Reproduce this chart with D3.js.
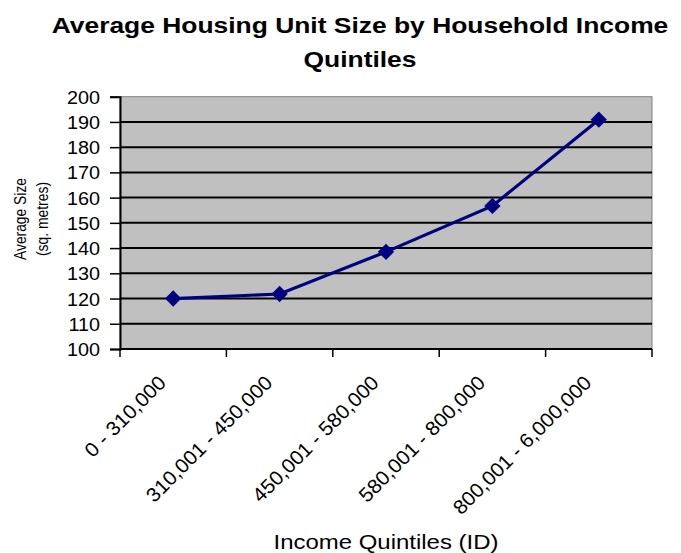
<!DOCTYPE html>
<html>
<head>
<meta charset="utf-8">
<script src="https://cdn.jsdelivr.net/npm/d3@7"></script>
<style>
  body { margin: 0; background: #fff; }
  svg text { font-family: Arial, "Liberation Sans", Helvetica, sans-serif; }
</style>
</head>
<body>
<div id="chart"></div>
<script>
// data
var categories = ["0 - 310,000", "310,001 - 450,000", "450,001 - 580,000", "580,001 - 800,000", "800,001 - 6,000,000"];
var sizes = [120, 121.8, 138.5, 156.7, 190.9];
var yTicks = [100, 110, 120, 130, 140, 150, 160, 170, 180, 190, 200];
var titleLines = ["Average Housing Unit Size by Household Income", "Quintiles"];

var W = 681, H = 553;
var margin = {top: 96.7, right: 29, bottom: 204, left: 120};
var width = W - margin.left - margin.right,
    height = H - margin.top - margin.bottom;

// the source picture has wide-set text, stretch it a bit
function stretch(sel, k) {
  sel.each(function() {
    var len = this.getComputedTextLength();
    d3.select(this).attr("textLength", len * k).attr("lengthAdjust", "spacingAndGlyphs");
  });
}

var svg = d3.select("#chart").append("svg")
  .attr("width", W)
  .attr("height", H);

// title
var titles = svg.append("g").selectAll("text")
  .data(titleLines)
  .enter().append("text")
  .attr("x", 360)
  .attr("y", function(d, i) { return 33 + i * 34; })
  .attr("text-anchor", "middle")
  .style("font-size", "22px")
  .style("font-weight", "bold")
  .text(function(d) { return d; });
stretch(titles, 1.2);

var g = svg.append("g")
  .attr("transform", "translate(" + margin.left + "," + margin.top + ")");

var x = d3.scaleBand().domain(categories).range([0, width]);
var y = d3.scaleLinear().domain([100, 200]).range([height, 0]);

// plot area
g.append("rect")
  .attr("width", width)
  .attr("height", height)
  .style("fill", "#c0c0c0")
  .style("stroke", "#808080")
  .style("stroke-width", 1);

// gridlines
g.append("g").selectAll("line")
  .data(yTicks.filter(function(d) { return d > 100 && d < 200; }))
  .enter().append("line")
  .attr("x1", 0).attr("x2", width)
  .attr("y1", function(d) { return y(d); })
  .attr("y2", function(d) { return y(d); })
  .style("stroke", "#000")
  .style("stroke-width", 2);

// y axis
var yAxis = g.append("g")
  .call(d3.axisLeft(y).tickValues(yTicks).tickSize(10).tickPadding(10));
yAxis.attr("font-family", null);
yAxis.selectAll("text").style("font-size", "18px").style("fill", "#000").attr("dy", "0.36em");
stretch(yAxis.selectAll("text"), 1.1);
yAxis.select(".domain").style("stroke-width", 2);
yAxis.selectAll(".tick line").style("stroke-width", 1.5);

// x axis: ticks at band edges
var xEdges = categories.map(function(c) { return x(c); }).concat([width]);
var xAxis = g.append("g").attr("transform", "translate(0," + height + ")");
xAxis.append("line")
  .attr("x1", 0).attr("x2", width)
  .style("stroke", "#000").style("stroke-width", 2);
xAxis.selectAll(".tk")
  .data(xEdges)
  .enter().append("line")
  .attr("class", "tk")
  .attr("x1", function(d) { return d; })
  .attr("x2", function(d) { return d; })
  .attr("y1", 0).attr("y2", 8)
  .style("stroke", "#000").style("stroke-width", 1.5);
var xLabels = xAxis.selectAll(".lbl")
  .data(categories)
  .enter().append("text")
  .attr("class", "lbl")
  .attr("text-anchor", "end")
  .attr("transform", function(d) {
    return "translate(" + (x(d) + x.bandwidth() / 2 - 6) + ",35) rotate(-45)";
  })
  .style("font-size", "20px")
  .text(function(d) { return d; });
stretch(xLabels, 1.04);

// axis titles
var xTitle = svg.append("text")
  .attr("x", 386)
  .attr("y", 549)
  .attr("text-anchor", "middle")
  .style("font-size", "21px")
  .text("Income Quintiles (ID)");
xTitle.attr("textLength", 225).attr("lengthAdjust", "spacingAndGlyphs");

var yTitle = svg.append("text")
  .attr("transform", "translate(0,219) rotate(-90)")
  .attr("text-anchor", "middle")
  .style("font-size", "16px");
yTitle.append("tspan").attr("x", 0).attr("y", 26).attr("textLength", 82).attr("lengthAdjust", "spacingAndGlyphs").text("Average Size");
yTitle.append("tspan").attr("x", 0).attr("y", 48).attr("textLength", 74).attr("lengthAdjust", "spacingAndGlyphs").text("(sq. metres)");

// line + markers
var line = d3.line()
  .x(function(d, i) { return x(categories[i]) + x.bandwidth() / 2; })
  .y(function(d) { return y(d); });

g.append("path")
  .datum(sizes)
  .attr("d", line)
  .style("fill", "none")
  .style("stroke", "#000080")
  .style("stroke-width", 3.2);

g.selectAll(".pt")
  .data(sizes)
  .enter().append("path")
  .attr("class", "pt")
  .attr("d", d3.symbol().type(d3.symbolDiamond2).size(170))
  .attr("transform", function(d, i) {
    return "translate(" + (x(categories[i]) + x.bandwidth() / 2) + "," + y(d) + ")";
  })
  .style("fill", "#000080");
</script>
</body>
</html>
